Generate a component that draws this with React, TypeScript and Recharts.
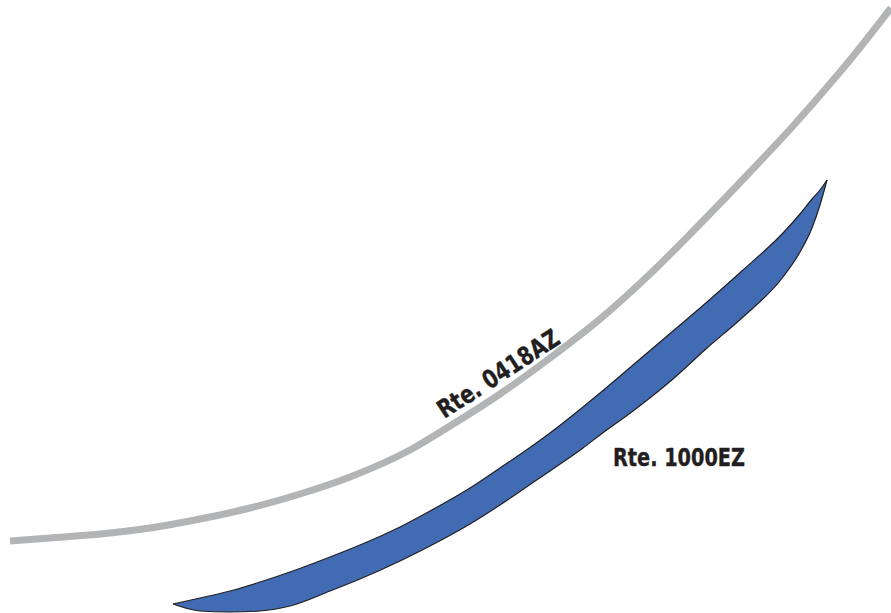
import React from 'react'
import { ComposedChart, Line, Area, XAxis, YAxis, ReferenceDot } from 'recharts'

// grey route (x across, y down from the top)
const routeX = [10, 50, 100, 150, 200, 250, 300, 350, 410, 450, 500, 550, 600, 650, 700, 750, 793, 822, 850, 891]
const routeY = [541, 538, 534, 528, 519, 508, 494, 477, 450, 426, 394, 358, 319, 274, 224, 172, 126, 93, 60, 8]

// blue band: shared x positions, upper and lower edges
const bandX = [173, 200, 230, 260, 290, 330, 360, 400, 430, 470, 500, 525, 550, 583, 600, 633, 673, 707, 743, 783, 800, 812, 820, 827]
const bandTop = [604, 598, 591, 582, 572, 557, 545, 527, 511, 488, 468, 451, 433, 407, 393, 365, 331, 302, 270, 233, 214, 199, 190, 180]
const bandBottom = [604, 611, 612, 611, 606, 591, 579, 561, 546, 524, 505, 488, 471, 448, 435, 411, 379, 348, 317, 277, 252, 228, 205, 180]

const labelNames = ['Rte. 0418AZ', 'Rte. 1000EZ']
const labelX = [503, 679]
const labelY = [381, 466]
const labelAngle = [-33, 0]
const labelWidth = [140, 132]

const W = 891
const H = 613

const routeData = routeX.map((x, i) => ({ x, y: routeY[i] }))
const bandData = bandX.map((x, i) => ({ x, band: [bandTop[i], bandBottom[i]] }))

const renderLabel = (i: number) => (props: any) => {
  const { cx, cy } = props
  return (
    <text
      x={cx}
      y={cy}
      textAnchor="middle"
      transform={`rotate(${labelAngle[i]} ${cx} ${cy})`}
      fill="#231f20"
      stroke="#231f20"
      strokeWidth={0.4}
      fontFamily="'DejaVu Sans', sans-serif"
      fontWeight="bold"
      fontSize={25}
      textLength={labelWidth[i]}
      lengthAdjust="spacingAndGlyphs"
    >
      {labelNames[i]}
    </text>
  )
}

export default function App() {
  return (
    <div style={{ position: 'absolute', left: 0, top: 0, width: W, height: H, background: '#fff' }}>
      <ComposedChart width={W} height={H} margin={{ top: 0, right: 0, bottom: 0, left: 0 }}>
        <XAxis type="number" dataKey="x" domain={[0, W]} hide allowDataOverflow />
        <YAxis type="number" domain={[0, H]} reversed hide allowDataOverflow />
        <Area
          data={bandData}
          dataKey="band"
          type="monotone"
          fill="#416cb4"
          fillOpacity={1}
          stroke="#231f20"
          strokeWidth={1.2}
          activeDot={false}
          isAnimationActive={false}
        />
        <Line
          data={routeData}
          dataKey="y"
          type="monotone"
          stroke="#b3b4b6"
          strokeWidth={7}
          strokeLinecap="butt"
          dot={false}
          activeDot={false}
          isAnimationActive={false}
        />
        {labelNames.map((name, i) => (
          <ReferenceDot key={name} x={labelX[i]} y={labelY[i]} r={0} shape={renderLabel(i)} ifOverflow="visible" />
        ))}
      </ComposedChart>
    </div>
  )
}
